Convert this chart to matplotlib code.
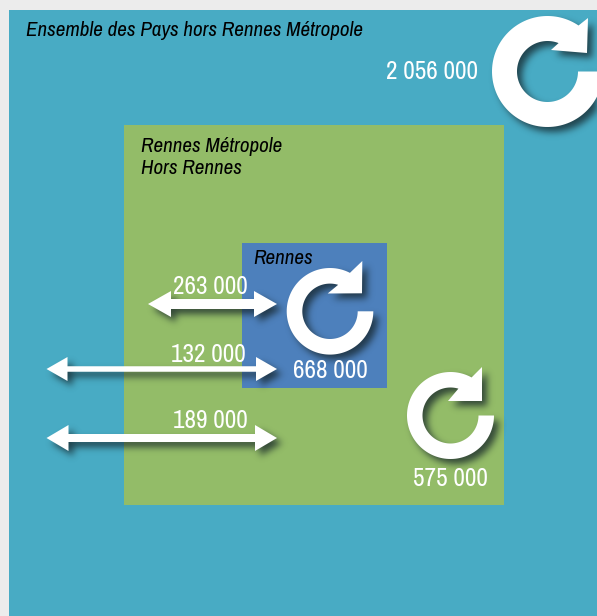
import numpy as np
import matplotlib
matplotlib.use("Agg")
import matplotlib.pyplot as plt
from matplotlib.patches import Polygon, Rectangle

plt.rcParams['font.family'] = ['Archivo Narrow', 'Liberation Sans', 'DejaVu Sans']

# Data
zones = ["Ensemble des Pays hors Rennes Métropole", "Rennes Métropole\nHors Rennes", "Rennes"]
internal_labels = ["2 056 000", "575 000", "668 000"]
flow_labels = ["263 000", "132 000", "189 000"]

W, H = 597, 616


def setup_axes(figure):
    a = figure.add_axes([0, 0, 1, 1])
    a.set_xlim(0, W)
    a.set_ylim(H, 0)
    a.axis("off")
    return a


def loop_icon(cx, cy, r_out, r_in, ang_out, ang_in, head):
    a_out = np.radians(np.linspace(0, ang_out - 360, 120))
    a_in = np.radians(np.linspace(ang_in - 360, 0, 120))
    outer = np.c_[r_out * np.cos(a_out), -r_out * np.sin(a_out)]
    inner = np.c_[r_in * np.cos(a_in), -r_in * np.sin(a_in)]
    return np.vstack([outer, np.array(head), inner]) + np.array([cx, cy])


def double_arrow(x0, x1, y, thick, head_len, head_h):
    return np.array([
        [x0, y], [x0 + head_len, y - head_h], [x0 + head_len, y - thick / 2],
        [x1 - head_len, y - thick / 2], [x1 - head_len, y - head_h], [x1, y],
        [x1 - head_len, y + head_h], [x1 - head_len, y + thick / 2],
        [x0 + head_len, y + thick / 2], [x0 + head_len, y + head_h],
    ])


shapes = [
    loop_icon(547.5, 71.5, 55.5, 30.5, 56, 68.7, [[40.5, -53.5], [39.5, -18.5], [3.5, -21.5]]),
    loop_icon(450.5, 415.5, 43.5, 28, 61, 73.6, [[31.5, -48.5], [31.5, -14.5], [-2.5, -14.5]]),
    loop_icon(330, 311.3, 43.3, 27.7, 62.6, 72.9, [[32.3, -50.3], [32, -18], [-2.3, -17.8]]),
    double_arrow(148, 277, 304, 10, 23, 13),
    double_arrow(46.5, 277, 369, 5.5, 21, 12),
    double_arrow(46.5, 277, 438, 8, 22, 13),
]

# Shadow mask: draw the shapes on their own, then blur the pixels
mask_fig = plt.figure(figsize=(W / 100, H / 100), dpi=100, facecolor="black")
mask_ax = setup_axes(mask_fig)
for pts in shapes:
    mask_ax.add_patch(Polygon(pts + np.array([5, 5]), closed=True, facecolor="white", edgecolor="none"))
mask_fig.canvas.draw()
mask = np.asarray(mask_fig.canvas.buffer_rgba())[:, :, 0] / 255.0
plt.close(mask_fig)

kernel = np.exp(-0.5 * (np.arange(-12, 13) / 3.5) ** 2)
kernel /= kernel.sum()
mask = np.apply_along_axis(lambda r: np.convolve(r, kernel, mode="same"), 0, mask)
mask = np.apply_along_axis(lambda r: np.convolve(r, kernel, mode="same"), 1, mask)

shadow = np.zeros((mask.shape[0], mask.shape[1], 4))
shadow[:, :, :3] = [0.08, 0.14, 0.16]
shadow[:, :, 3] = mask * 0.75

fig = plt.figure(figsize=(W / 100, H / 100), dpi=100, facecolor="#ececec")
ax = setup_axes(fig)

# Nested squares
ax.add_patch(Rectangle((9, 10), 590, 610, color="#48abc4", lw=0))
ax.add_patch(Rectangle((124, 125), 380, 380, color="#93bc68", lw=0))
ax.add_patch(Rectangle((242, 243), 145, 145, color="#4d80bc", lw=0))

ax.imshow(shadow, extent=(0, W, H, 0), zorder=3, aspect="auto", interpolation="nearest")
ax.set_xlim(0, W)
ax.set_ylim(H, 0)

for pts in shapes:
    ax.add_patch(Polygon(pts, closed=True, facecolor="white", edgecolor="none", zorder=4))

# Zone names
name_style = dict(style="italic", color="black", fontsize=15.2, va="center", ha="left", zorder=6)
ax.text(26, 31, zones[0], **name_style)
ax.text(141, 157, zones[1], linespacing=1.2, **name_style)
ax.text(253, 259, zones[2], **name_style)

# Values
value_style = dict(color="white", fontsize=18.2, va="center", ha="center", zorder=6)
ax.text(432, 71.5, internal_labels[0], **value_style)
ax.text(450, 479, internal_labels[1], **value_style)
ax.text(330.5, 371, internal_labels[2], **value_style)
ax.text(210, 286, flow_labels[0], **value_style)
ax.text(208.5, 354, flow_labels[1], **value_style)
ax.text(210, 420, flow_labels[2], **value_style)

plt.savefig("out.png", dpi=100, facecolor=fig.get_facecolor())
